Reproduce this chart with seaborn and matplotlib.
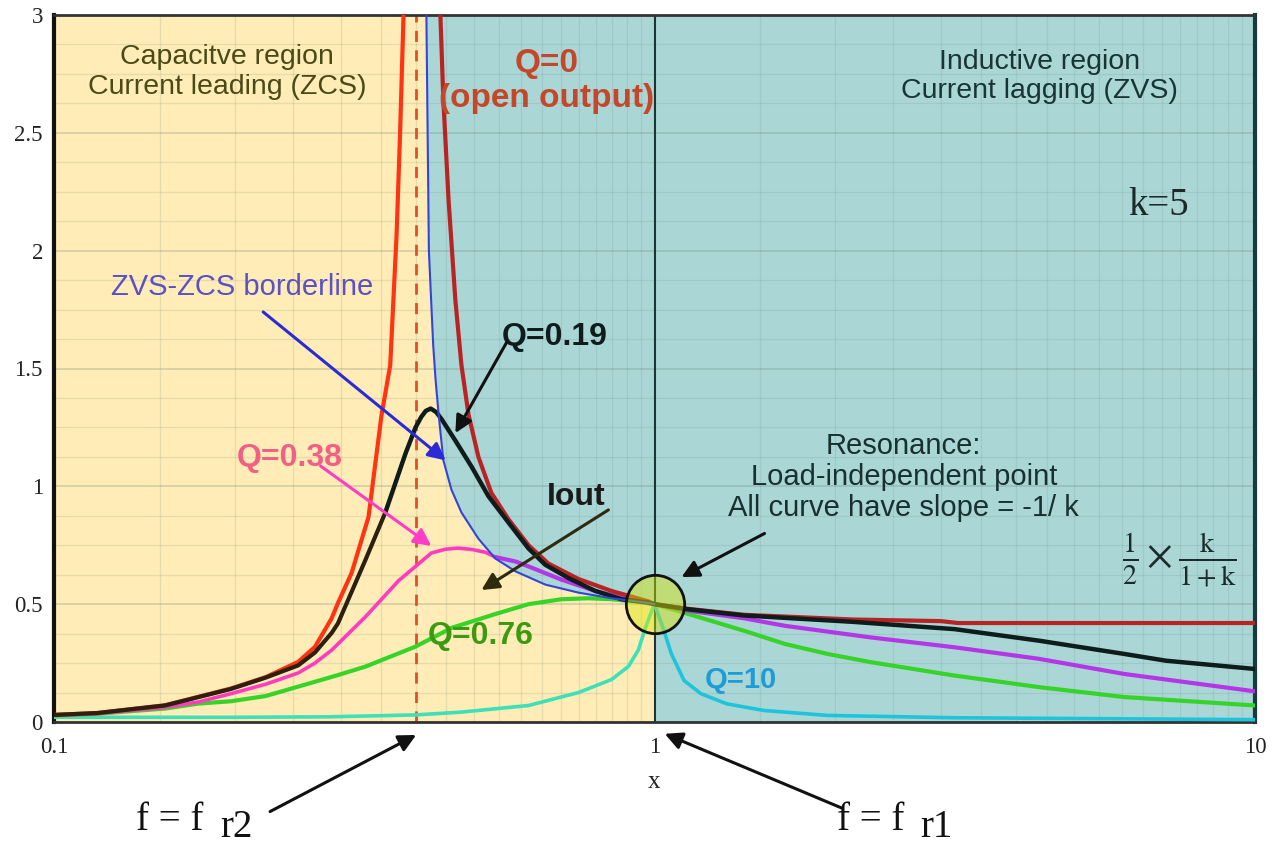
import numpy as np
import pandas as pd
import seaborn as sns
import matplotlib.pyplot as plt
from matplotlib.ticker import FixedLocator, NullFormatter

# ---------------------------------------------------------------- data
k_ratio = 5
fr2 = 0.401          # second resonance, f_r2 / f_r1
fr1 = 1.0            # series resonance
res_gain = 0.5       # load-independent point

# Q = 0 (open output): branch below f_r2
q0_lo_x = [0.100, 0.118, 0.153, 0.197, 0.225, 0.255, 0.272, 0.290, 0.297, 0.313,
           0.334, 0.351, 0.363, 0.372, 0.377, 0.382]
q0_lo_y = [0.030, 0.038, 0.071, 0.142, 0.190, 0.255, 0.319, 0.440, 0.504, 0.632,
           0.870, 1.300, 1.514, 2.070, 2.500, 3.000]

# Q = 0 (open output): branch above f_r2
q0_hi_x = [0.440, 0.445, 0.454, 0.466, 0.477, 0.490, 0.509, 0.535, 0.571, 0.617,
           0.666, 0.747, 0.848, 0.977, 1.000, 1.140, 1.410, 2.140, 3.000, 3.200, 10.00]
q0_hi_y = [3.000, 2.640, 2.215, 1.790, 1.514, 1.306, 1.125, 0.972, 0.861, 0.750,
           0.672, 0.607, 0.556, 0.512, 0.500, 0.480, 0.455, 0.435, 0.428, 0.420, 0.420]

# ZVS / ZCS borderline
zvs_x = [0.417, 0.421, 0.428, 0.432, 0.437, 0.445, 0.459, 0.477, 0.509, 0.543,
         0.587, 0.658, 0.747, 0.848, 0.977, 1.000]
zvs_y = [3.000, 2.000, 1.600, 1.450, 1.306, 1.111, 0.986, 0.889, 0.778, 0.694,
         0.639, 0.583, 0.549, 0.525, 0.505, 0.500]

# Q = 0.19
q019_x = [0.100, 0.118, 0.153, 0.197, 0.225, 0.255, 0.272, 0.290, 0.297, 0.330,
          0.356, 0.385, 0.400, 0.409, 0.416, 0.424, 0.433, 0.442, 0.466, 0.496,
          0.529, 0.571, 0.617, 0.658, 0.719, 0.797, 0.881, 0.977, 1.000, 1.140,
          1.410, 2.140, 3.160, 4.370, 6.050, 7.110, 10.00]
q019_y = [0.030, 0.038, 0.070, 0.140, 0.188, 0.240, 0.295, 0.378, 0.418, 0.687,
          0.887, 1.140, 1.250, 1.295, 1.320, 1.330, 1.315, 1.285, 1.194, 1.083,
          0.958, 0.847, 0.736, 0.667, 0.611, 0.556, 0.521, 0.507, 0.500, 0.478,
          0.452, 0.425, 0.394, 0.345, 0.289, 0.260, 0.225]

# Q = 0.38
q038_x = [0.100, 0.118, 0.153, 0.174, 0.197, 0.225, 0.255, 0.272, 0.290, 0.330,
          0.375, 0.425, 0.448, 0.471, 0.497, 0.523, 0.543, 0.587, 0.617, 0.700,
          0.797, 0.905, 1.000, 1.140, 1.410, 1.650, 2.290, 3.160, 4.370, 6.050,
          10.00]
q038_y = [0.028, 0.035, 0.062, 0.085, 0.120, 0.160, 0.208, 0.250, 0.305, 0.446,
          0.600, 0.717, 0.733, 0.738, 0.732, 0.720, 0.700, 0.681, 0.660, 0.604,
          0.556, 0.521, 0.500, 0.472, 0.440, 0.408, 0.359, 0.317, 0.268, 0.204,
          0.130]

# Q = 0.76
q076_x = [0.100, 0.118, 0.153, 0.174, 0.197, 0.225, 0.255, 0.297, 0.330, 0.400,
          0.460, 0.543, 0.617, 0.700, 0.776, 0.848, 0.930, 1.000, 1.140, 1.410,
          1.650, 1.940, 2.290, 3.160, 4.370, 6.050, 10.00]
q076_y = [0.028, 0.035, 0.057, 0.078, 0.088, 0.110, 0.150, 0.199, 0.235, 0.320,
          0.400, 0.458, 0.500, 0.521, 0.525, 0.521, 0.511, 0.500, 0.458, 0.387,
          0.331, 0.289, 0.254, 0.197, 0.148, 0.106, 0.070]

# Q = 10
q10_x = [0.100, 0.200, 0.287, 0.400, 0.477, 0.617, 0.747, 0.848, 0.905, 0.940,
         0.966, 0.985, 1.000, 1.033, 1.067, 1.120, 1.195, 1.320, 1.520, 1.940,
         3.160, 10.00]
q10_y = [0.020, 0.020, 0.022, 0.030, 0.042, 0.070, 0.125, 0.180, 0.236, 0.306,
         0.400, 0.458, 0.500, 0.400, 0.289, 0.176, 0.120, 0.077, 0.049, 0.028,
         0.018, 0.010]

x_ticks = [0.1, 1, 10]
x_tick_labels = ["0.1", "1", "10"]
y_ticks = [0, 0.5, 1, 1.5, 2, 2.5, 3]
y_tick_labels = ["0", "0.5", "1", "1.5", "2", "2.5", "3"]

# ---------------------------------------------------------------- style
sns.set_theme(style="white")
plt.rcParams["font.family"] = ["Liberation Sans", "DejaVu Sans"]
plt.rcParams["mathtext.fontset"] = "stix"

YELLOW = "#ffecb6"
TEAL = "#abd6d6"
SERIF = ["Liberation Serif", "DejaVu Serif"]

fig = plt.figure(figsize=(12.87, 8.48), dpi=100)
ax = fig.add_axes([54 / 1287, 1 - 722 / 848, (1255 - 54) / 1287, (722 - 15) / 848])
ax.set_facecolor(YELLOW)
ax.set_xscale("log")
ax.set_xlim(0.1, 10)
ax.set_ylim(0, 3)

# inductive (ZVS) region: above the borderline and everything past f_r1
ax.fill_between(zvs_x, zvs_y, 3, color=TEAL, lw=0, zorder=0.1)
ax.axvspan(fr1, 10, color=TEAL, lw=0, zorder=0.1)

# grid
minor_x = [m * d for d in (0.1, 1) for m in np.arange(1.5, 10, 0.5)]
ax.xaxis.set_minor_locator(FixedLocator(minor_x))
ax.xaxis.set_minor_formatter(NullFormatter())
ax.yaxis.set_minor_locator(FixedLocator(np.arange(0, 3.01, 0.125)))
ax.set_axisbelow(True)
ax.grid(which="minor", color="#5f7f70", alpha=0.15, lw=0.9)
ax.grid(which="major", color="#5f7f70", alpha=0.30, lw=1.1)

ax.set_xticks(x_ticks)
ax.set_xticklabels(x_tick_labels)
ax.set_yticks(y_ticks)
ax.set_yticklabels(y_tick_labels)
ax.tick_params(which="both", length=0)
ax.tick_params(axis="x", pad=11)
ax.tick_params(axis="y", pad=8)
for lab in ax.get_xticklabels() + ax.get_yticklabels():
    lab.set_fontfamily(SERIF)
    lab.set_fontsize(16.5)
    lab.set_color("#222222")

for side, c, w in (("left", "#111111", 3), ("bottom", "#333333", 2),
                   ("top", "#333333", 2), ("right", "#173a3a", 3)):
    ax.spines[side].set_color(c)
    ax.spines[side].set_linewidth(w)
    ax.spines[side].set_visible(True)

# reference verticals
ax.axvline(fr2, color="#e0502a", lw=2, ls=(0, (4, 3)), zorder=2)
ax.axvline(fr1, color="#1c3434", lw=1.5, zorder=2)


def curve(x, y, color, lw):
    sns.lineplot(x=x, y=y, ax=ax, color=color, lw=lw, estimator=None,
                 sort=False, legend=False, zorder=3)


def split(x, y, lo, hi):
    xs = [a for a in x if lo <= a <= hi]
    ys = [b for a, b in zip(x, y) if lo <= a <= hi]
    return xs, ys


# Q = 10 (left aquamarine, right cyan)
curve(*split(q10_x, q10_y, 0, fr1), "#3ee0b8", 2.6)
curve(*split(q10_x, q10_y, fr1, 10), "#1ec4dc", 2.6)
# Q = 0.76
curve(q076_x, q076_y, "#36d428", 3.0)
# Q = 0.38 (pink, turning purple)
curve(*split(q038_x, q038_y, 0, 0.543), "#ff3cc0", 2.6)
curve(*split(q038_x, q038_y, 0.543, 10), "#b436e6", 3.0)
# Q = 0
curve(q0_lo_x, q0_lo_y, "#ff3412", 3.0)
curve(q0_hi_x, q0_hi_y, "#b82424", 3.0)
# Q = 0.19
curve(*split(q019_x, q019_y, 0, 0.36), "#2c2010", 3.0)
curve(*split(q019_x, q019_y, 0.356, 10), "#0f1c1c", 3.2)
# ZVS-ZCS borderline
curve(zvs_x, zvs_y, "#3344dd", 1.5)

# load-independent point
ax.plot([fr1], [res_gain], marker="o", ms=42, mfc=(0.86, 0.9, 0.0, 0.45),
        mec="#111111", mew=2, ls="none", zorder=5)

# ---------------------------------------------------------------- labels
txt = dict(ha="center", va="center", zorder=6)
ax.text(0.194, 2.76, "Capacitve region\nCurrent leading (ZCS)", fontsize=20.5,
        color="#4a4a18", linespacing=1.2, **txt)
ax.text(4.37, 2.74, "Inductive region\nCurrent lagging (ZVS)", fontsize=20.5,
        color="#183434", linespacing=1.15, **txt)
ax.text(0.661, 2.72, "Q=0\n(open output)", fontsize=24, fontweight="bold",
        color="#c5472a", linespacing=1.2, **txt)
ax.text(6.92, 2.19, f"k={k_ratio}", fontsize=28, family=SERIF,
        color="#1a2a2a", **txt)
ax.text(0.206, 1.846, "ZVS-ZCS borderline", fontsize=21, color="#5a50c8", **txt)
ax.text(0.681, 1.633, "Q=0.19", fontsize=23, fontweight="bold", color="#0f1c1c", **txt)
ax.text(0.247, 1.12, "Q=0.38", fontsize=23, fontweight="bold", color="#f25f84", **txt)
ax.text(0.741, 0.955, "Iout", fontsize=23, fontweight="bold", color="#1a1a1a", **txt)
ax.text(0.513, 0.365, "Q=0.76", fontsize=23, fontweight="bold", color="#3c9a10", **txt)
ax.text(1.39, 0.178, "Q=10", fontsize=21, fontweight="bold", color="#1e9cd6", **txt)
ax.text(2.6, 1.04, "Resonance:\nLoad-independent point\nAll curve have slope = -1/ k",
        fontsize=21, color="#183030", linespacing=1.12, **txt)
ax.text(7.47, 0.687, r"$\frac{1}{2}\times\frac{\mathrm{k}}{1+\mathrm{k}}$",
        fontsize=29, color="#1a2a2a", **txt)


def arrow(xy, xytext, color, lw=2.2):
    ax.annotate("", xy=xy, xytext=xytext, annotation_clip=False, zorder=6,
                arrowprops=dict(arrowstyle="-|>", color=color, lw=lw,
                                mutation_scale=26, shrinkA=0, shrinkB=0))


arrow((0.449, 1.11), (0.223, 1.74), "#2a2ad8")
arrow((0.466, 1.226), (0.567, 1.61), "#111111")
arrow((0.425, 0.747), (0.278, 1.086), "#ff3cc8")
arrow((0.515, 0.56), (0.838, 0.90), "#2e2a0c")
arrow((1.109, 0.615), (1.525, 0.80), "#111111")

# below the axis: frequency markers and axis name
ax.text(1.0, -0.255, "x", fontsize=18, family=SERIF, color="#222222",
        ha="center", va="center", clip_on=False)
arrow((fr2, -0.055), (0.229, -0.38), "#111111")
arrow((fr1 * 1.04, -0.05), (2.05, -0.365), "#111111")
below = dict(fontsize=28, family=SERIF, color="#111111", va="baseline", clip_on=False)
ax.text(0.156, -0.458, "f = f", ha="center", **below)
ax.text(0.201, -0.49, "r2", ha="center", **below)
ax.text(2.29, -0.458, "f = f", ha="center", **below)
ax.text(2.95, -0.49, "r1", ha="center", **below)

ax.set_xlabel("")
ax.set_ylabel("")
fig.savefig("out.png", dpi=100, facecolor="white")
